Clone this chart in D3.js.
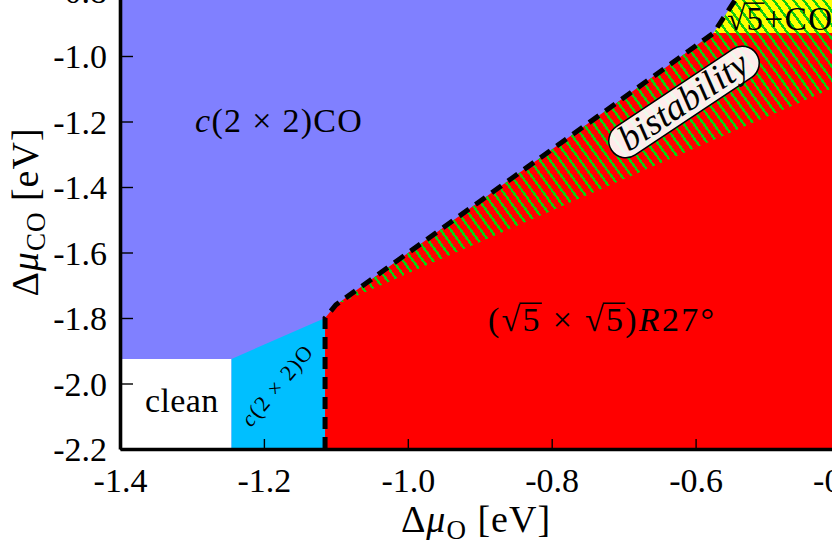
<!DOCTYPE html>
<html><head><meta charset="utf-8">
<script src="https://cdn.jsdelivr.net/npm/d3@7"></script>
<style>body{margin:0;background:#fff}svg{display:block}text{font-family:"Liberation Serif","Times New Roman",serif;fill:#000}</style>
</head><body>
<svg id="c" width="832" height="544"></svg>
<script>
// ---- data (Δμ_O, Δμ_CO in eV) ----
const xTicks = [-1.4, -1.2, -1.0, -0.8, -0.6, -0.4];
const yTicks = [-2.2, -2.0, -1.8, -1.6, -1.4, -1.2, -1.0, -0.8];
const xTickLabels = ["-1.4", "-1.2", "-1.0", "-0.8", "-0.6", "-0.4"];
const yTickLabels = ["-2.2", "-2.0", "-1.8", "-1.6", "-1.4", "-1.2", "-1.0", "-0.8"];
const plotExtent = [[-1.4, -2.2], [-0.3, -0.6]];
const cleanPhase = [[-1.4, -2.2], [-1.245, -2.2], [-1.245, -1.925], [-1.4, -1.925]];
const c22OPhase = [[-1.245, -2.2], [-1.115, -2.2], [-1.115, -1.80], [-1.245, -1.925]];
const sqrt5Phase = [[-1.115, -2.2], [-0.3, -2.2], [-0.3, -0.93], [-0.575, -0.93], [-1.100, -1.76], [-1.115, -1.80]];
const sqrt5COPhase = [[-0.575, -0.93], [-0.3, -0.93], [-0.3, -0.6], [-0.480, -0.6], [-0.545, -0.829]];
const bistabilityRegion = [[-1.100, -1.76], [-0.3, -0.993], [-0.3, -0.6], [-0.480, -0.6], [-0.545, -0.829], [-0.575, -0.93]];
const dashedBoundary = [[-1.115, -2.2], [-1.115, -1.80], [-1.100, -1.76], [-0.575, -0.93], [-0.545, -0.829], [-0.480, -0.6]];

const svg = d3.select("#c");
const x = d3.scaleLinear().domain([-1.4, -0.4]).range([120, 839.5]);
const y = d3.scaleLinear().domain([-2.2, -0.8]).range([449, -9.5]);
const line = d3.line().x(d => x(d[0])).y(d => y(d[1]));
const poly = pts => line(pts) + "Z";
const FONT = '"Liberation Serif","Times New Roman",serif';

// phases
svg.append("rect").attr("x", x(plotExtent[0][0])).attr("y", y(plotExtent[1][1]))
  .attr("width", x(plotExtent[1][0]) - x(plotExtent[0][0]))
  .attr("height", y(plotExtent[0][1]) - y(plotExtent[1][1])).attr("fill", "#8080ff");
svg.append("path").attr("d", poly(cleanPhase)).attr("fill", "#ffffff");
svg.append("path").attr("d", poly(c22OPhase)).attr("fill", "#00bfff");
svg.append("path").attr("d", poly(sqrt5Phase)).attr("fill", "#ff0000");
svg.append("path").attr("d", poly(sqrt5COPhase)).attr("fill", "#ffff00");

// bistability hatching (clipped to region)
svg.append("clipPath").attr("id", "bistClip").append("path").attr("d", poly(bistabilityRegion));
const hatch = svg.append("g").attr("clip-path", "url(#bistClip)");
const hSpacing = 10, hAngle = 54 * Math.PI / 180, hLen = 700;
const hx = hLen / Math.tan(hAngle);
hatch.selectAll("line").data(d3.range(-80, 100)).join("line")
  .attr("x1", k => 300 + k * hSpacing).attr("y1", -60)
  .attr("x2", k => 300 + k * hSpacing + hx).attr("y2", -60 + hLen)
  .attr("stroke", "#10cc10").attr("stroke-width", 2.4).attr("shape-rendering", "crispEdges");

svg.append("path").attr("d", line(dashedBoundary)).attr("fill", "none")
  .attr("stroke", "#000").attr("stroke-width", 5).attr("stroke-dasharray", "12,8");

// axes
const ax = svg.append("g").attr("transform", `translate(0,${y(-2.2)})`)
  .call(d3.axisBottom(x).tickValues(xTicks).tickFormat((d, i) => xTickLabels[i]).tickSizeInner(-10).tickSizeOuter(0).tickPadding(0));
const ay = svg.append("g").attr("transform", `translate(${x(-1.4)},0)`)
  .call(d3.axisLeft(y).tickValues(yTicks).tickFormat((d, i) => yTickLabels[i]).tickSizeInner(-13).tickSizeOuter(0).tickPadding(13));
[ax, ay].forEach(g => {
  g.attr("font-family", FONT).attr("font-size", 34);
  g.select(".domain").attr("stroke", "#000").attr("stroke-width", 3.6);
  g.selectAll(".tick line").attr("stroke", "#000").attr("stroke-width", 1.4);
  g.selectAll(".tick text").attr("font-family", FONT).attr("font-size", 34);
});
ax.selectAll(".tick text").attr("y", 43).attr("dy", null);
ay.selectAll(".tick text").attr("dy", "0.34em");

// radical overline helper
function overline(textSel, idxs) {
  const node = textSel.node();
  const fs = +textSel.attr("font-size");
  idxs.forEach(([r, e]) => {
    const a = node.getExtentOfChar(r), b = node.getExtentOfChar(e);
    const yy = a.y + a.height * 0.06;
    svg.append("line").attr("x1", a.x + a.width * 0.85).attr("x2", b.x + b.width)
      .attr("y1", yy).attr("y2", yy).attr("stroke", "#000").attr("stroke-width", fs * 0.045)
      .attr("transform", textSel.attr("transform"));
  });
}

// phase labels
const t1 = svg.append("text").attr("x", 195).attr("y", 132).attr("font-size", 34).attr("letter-spacing", 1.3);
t1.append("tspan").attr("font-style", "italic").text("c");
t1.append("tspan").text("(2 × 2)CO");

svg.append("text").attr("x", 145).attr("y", 412).attr("font-size", 34).attr("letter-spacing", 0.4).text("clean");

const t3 = svg.append("text").attr("x", 488).attr("y", 331).attr("font-size", 34).attr("letter-spacing", 2.3);
t3.append("tspan").text("(√5\u00a0×\u00a0√5)");
t3.append("tspan").attr("font-style", "italic").text("R");
t3.append("tspan").text("27°");
overline(t3, [[1, 2], [6, 7]]);

const t4 = svg.append("text").attr("text-anchor", "middle").attr("font-size", 22).attr("letter-spacing", 1.5)
  .attr("transform", "translate(283,390) rotate(-50)");
t4.append("tspan").attr("font-style", "italic").text("c");
t4.append("tspan").text("(2 × 2)O");

const t5 = svg.append("text").attr("x", 727).attr("y", 30).attr("font-size", 33).attr("letter-spacing", 1.5).text("√5+CO");
overline(t5, [[0, 1]]);

// bistability label
const bl = svg.append("g").attr("transform", "translate(684,102) rotate(-33.7)");
bl.append("rect").attr("x", -87).attr("y", -17).attr("width", 174).attr("height", 34)
  .attr("rx", 17).attr("fill", "#ffffff").attr("fill-opacity", 0.92)
  .attr("stroke", "#000").attr("stroke-width", 1.5);
bl.append("text").attr("text-anchor", "middle").attr("y", 11).attr("font-size", 37)
  .attr("font-style", "italic").text("bistability");

// axis titles
const xt = svg.append("text").attr("x", 476).attr("y", 532).attr("text-anchor", "middle").attr("font-size", 38).attr("letter-spacing", 1);
xt.append("tspan").text("Δ");
xt.append("tspan").attr("font-style", "italic").text("μ");
xt.append("tspan").attr("font-size", 27).attr("dy", 7).text("O");
xt.append("tspan").attr("dy", -7).text(" [eV]");

const yt = svg.append("text").attr("text-anchor", "middle").attr("font-size", 38).attr("letter-spacing", 1)
  .attr("transform", "translate(38,212) rotate(-90)");
yt.append("tspan").text("Δ");
yt.append("tspan").attr("font-style", "italic").text("μ");
yt.append("tspan").attr("font-size", 27).attr("dy", 7).text("CO");
yt.append("tspan").attr("dy", -7).text(" [eV]");
</script>
</body></html>
